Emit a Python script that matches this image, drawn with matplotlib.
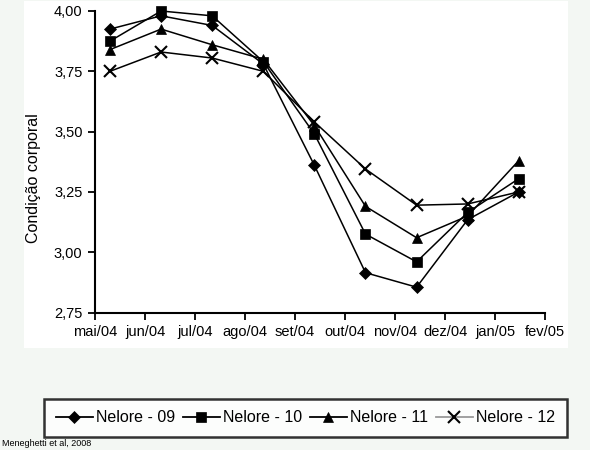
import matplotlib
matplotlib.use("Agg")
import matplotlib.pyplot as plt
from matplotlib.lines import Line2D
from matplotlib.patches import Rectangle
import numpy as np

plt.rcParams['font.family'] = ['Liberation Sans', 'DejaVu Sans']

months = ["mai/04", "jun/04", "jul/04", "ago/04", "set/04", "out/04",
          "nov/04", "dez/04", "jan/05", "fev/05"]
yticks = [2.75, 3.00, 3.25, 3.50, 3.75, 4.00]
ytick_labels = ["2,75", "3,00", "3,25", "3,50", "3,75", "4,00"]

series_names = ["Nelore - 09", "Nelore - 10", "Nelore - 11", "Nelore - 12"]
nelore_09 = [3.925, 3.98, 3.94, 3.78, 3.36, 2.915, 2.855, 3.135, 3.25]
nelore_10 = [3.875, 4.00, 3.98, 3.79, 3.49, 3.075, 2.96, 3.165, 3.305]
nelore_11 = [3.84, 3.925, 3.86, 3.80, 3.525, 3.19, 3.06, 3.15, 3.38]
nelore_12 = [3.75, 3.83, 3.805, 3.75, 3.54, 3.345, 3.195, 3.20, 3.25]
series = [nelore_09, nelore_10, nelore_11, nelore_12]

markers = ["D", "s", "^", "x"]
msizes = [6, 6.5, 7.5, 8]
legend_line_colors = ["black", "black", "black", "#999999"]

W, H = 590, 450
fig = plt.figure(figsize=(W / 100, H / 100), dpi=100, facecolor="#f3f7f3")
fig.patches.append(Rectangle((24 / W, 1 - 348 / H), (568 - 24) / W, (348 - 1) / H,
                             transform=fig.transFigure, facecolor="white",
                             edgecolor="none", zorder=-5))

ax = fig.add_axes([95 / W, 1 - 312.5 / H, 450 / W, 301.5 / H])
ax.set_facecolor("white")

x = np.arange(len(nelore_09))
for vals, m, ms in zip(series, markers, msizes):
    ax.plot(x, vals, color="black", lw=1.1, marker=m, ms=ms,
            markeredgewidth=1.5 if m == "x" else 0.5, markeredgecolor="black",
            markerfacecolor="black", clip_on=False)

# pixel geometry: first point at 110px, spacing 51.1px; axis spans 95..545px
xmin = (95 - 110) / 51.1
xmax = (545 - 110) / 51.1
ax.set_xlim(xmin, xmax)
ax.set_ylim(2.75, 4.00)
ax.set_xticks(np.linspace(xmin, xmax, len(months)))
ax.set_xticklabels(months, fontsize=10.5)
ax.set_yticks(yticks)
ax.set_yticklabels(ytick_labels, fontsize=10.5)
ax.tick_params(axis="both", direction="out", length=5, width=1.3, pad=4)

for s in ["top", "right"]:
    ax.spines[s].set_visible(False)
for s in ["left", "bottom"]:
    ax.spines[s].set_linewidth(1.5)

ax.set_ylabel("Condição corporal", fontsize=11.5)
ax.yaxis.set_label_coords(-0.12, 0.445)

handles = [Line2D([], [], color=c, lw=1.3, marker=m, ms=ms, markerfacecolor="black",
                  markeredgecolor="black", markeredgewidth=1.5 if m == "x" else 0.5)
           for c, m, ms in zip(legend_line_colors, markers, msizes)]
leg = fig.legend(handles, series_names, loc="center",
                 bbox_to_anchor=((45 + 566) / 2 / W, 1 - 418 / H),
                 ncol=4, fontsize=11.5, frameon=True, fancybox=False,
                 handlelength=2.3, handletextpad=0.2, columnspacing=0.5,
                 borderpad=0.75, borderaxespad=0)
leg.get_frame().set_edgecolor("black")
leg.get_frame().set_linewidth(1.8)
leg.get_frame().set_facecolor("white")

fig.text(2 / W, 1 - 444 / H, "Meneghetti et al, 2008", fontsize=6.5, va="center")

fig.savefig("out.png", dpi=100, facecolor=fig.get_facecolor())
